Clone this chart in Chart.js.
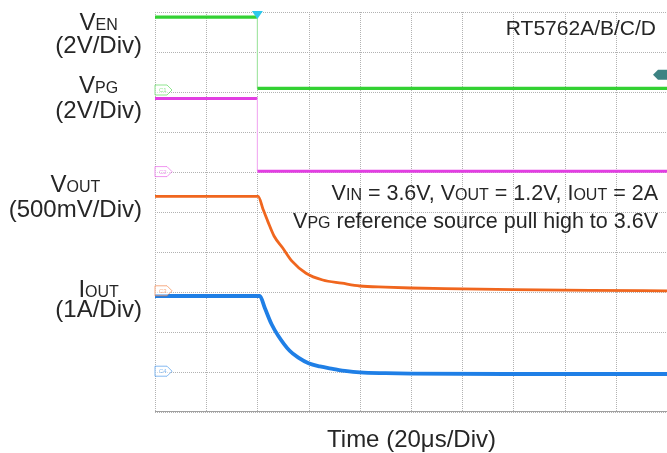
<!DOCTYPE html>
<html>
<head>
<meta charset="utf-8">
<script src="https://cdn.jsdelivr.net/npm/chart.js@4.4.1/dist/chart.umd.min.js"></script>
<style>
    html, body { margin: 0; padding: 0; background: #fff; }
    #wrap { position: relative; width: 667px; height: 453px; }
</style>
</head>
<body>
<div id="wrap"><canvas id="scope"></canvas></div>
<script>
// time axis in us (20us/Div), trigger at t = 0
const timeMin = -40, timeMax = 160, timeStep = 20;
// vertical axis in screen divisions, 0 = bottom edge
const divMin = 0, divMax = 10, divStep = 1;

// VEN (2V/Div)
const venTime = [-40, 0, 0, 160];
const venDiv  = [9.87, 9.87, 8.09, 8.09];

// VPG (2V/Div)
const pgTime = [-40, 0, 0, 160];
const pgDiv  = [7.84, 7.84, 6.02, 6.02];

// VOUT (500mV/Div)
const voutTime = [-40, 0.3, 2.2, 4.1, 6.5, 9.9, 13.5, 19, 25.5, 33, 40, 50, 60, 80, 100, 130, 160];
const voutDiv  = [5.39, 5.39, 5.07, 4.76, 4.4, 4.1, 3.77, 3.47, 3.3, 3.22, 3.15, 3.12, 3.1, 3.08, 3.06, 3.04, 3.03];

// IOUT (1A/Div)
const ioutTime = [-40, 0.9, 2.9, 5.5, 8, 12.6, 16, 20, 24.4, 29.4, 35, 40, 50, 60, 100, 160];
const ioutDiv  = [2.9, 2.9, 2.6, 2.2, 1.92, 1.53, 1.36, 1.22, 1.14, 1.08, 1.02, 0.99, 0.97, 0.96, 0.95, 0.95];

// channel ground markers (left) and trigger level (right)
const tagNames  = ["C1", "C2", "C3", "C4"];
const tagLevels = [8.05, 6.01, 3.03, 1.02];
const trigLevel = 8.43;

const FONT = '"Liberation Sans", Arial, Helvetica, sans-serif';
const traceColors = ["#33d133", "#e23ee2", "#f0661e", "#1f7fe6"];
const edgeColors  = ["#a6e6a6", "#f2b0f2", "#f0661e", "#1f7fe6"];

function points(ts, vs) {
    return ts.map((t, i) => ({ x: t, y: vs[i] }));
}

function trace(label, ts, vs, idx, width, smooth) {
    return {
        label: label,
        data: points(ts, vs),
        borderColor: traceColors[idx],
        borderWidth: width,
        pointRadius: 0,
        tension: 0,
        cubicInterpolationMode: smooth ? "monotone" : "default",
        segment: {
            // the fast edges are drawn thin and pale like on the scope screen
            borderWidth: c => c.p0.parsed.x === c.p1.parsed.x ? 1.2 : undefined,
            borderColor: c => c.p0.parsed.x === c.p1.parsed.x ? edgeColors[idx] : undefined
        }
    };
}

// draw text made of runs with different font sizes on one baseline
function runs(ctx, parts, x, y, align) {
    let w = 0;
    parts.forEach(p => { ctx.font = p[1] + "px " + FONT; w += ctx.measureText(p[0]).width; });
    let cx = align === "right" ? x - w : align === "center" ? x - w / 2 : x;
    parts.forEach(p => {
        ctx.font = p[1] + "px " + FONT;
        ctx.fillText(p[0], cx, y);
        cx += ctx.measureText(p[0]).width;
    });
    return w;
}

function tag(ctx, x0, cy, color, name) {
    ctx.save();
    ctx.globalAlpha = 0.55;
    ctx.beginPath();
    ctx.moveTo(x0, cy - 5);
    ctx.lineTo(x0 + 12, cy - 5);
    ctx.lineTo(x0 + 17, cy);
    ctx.lineTo(x0 + 12, cy + 5);
    ctx.lineTo(x0, cy + 5);
    ctx.closePath();
    ctx.fillStyle = "#fff";
    ctx.fill();
    ctx.strokeStyle = color;
    ctx.lineWidth = 1;
    ctx.stroke();
    ctx.fillStyle = color;
    ctx.font = "6px " + FONT;
    ctx.textBaseline = "middle";
    ctx.fillText(name, x0 + 4, cy + 0.5);
    ctx.restore();
}

// dotted graticule on the division ticks
const graticule = {
    id: "graticule",
    beforeDatasetsDraw(chart) {
        const { ctx, chartArea: a, scales: { x, y } } = chart;
        ctx.save();
        ctx.lineWidth = 1;
        ctx.strokeStyle = "#b2b2b2";
        ctx.setLineDash([1, 1]);
        for (let t = timeMin; t <= timeMax; t += timeStep) {
            const px = Math.round(x.getPixelForValue(t)) + 0.5;
            ctx.beginPath();
            ctx.moveTo(px, a.top);
            ctx.lineTo(px, a.bottom);
            ctx.stroke();
        }
        for (let d = divMin; d < divMax + 0.5; d += divStep) {
            const py = Math.round(y.getPixelForValue(d)) + 0.5;
            ctx.beginPath();
            ctx.moveTo(a.left, py);
            ctx.lineTo(a.right, py);
            ctx.stroke();
        }
        ctx.setLineDash([]);
        ctx.strokeStyle = "#a0a0a0";
        ctx.beginPath();
        ctx.moveTo(a.left, a.bottom - 0.5);
        ctx.lineTo(a.right, a.bottom - 0.5);
        ctx.stroke();
        ctx.restore();
    }
};

const scopeDecor = {
    id: "scopeDecor",
    afterDatasetsDraw(chart) {
        const { ctx, chartArea, scales: { x, y } } = chart;

        tagLevels.forEach((lv, i) => {
            tag(ctx, chartArea.left, y.getPixelForValue(lv), traceColors[i], tagNames[i]);
        });

        // trigger level marker, right edge
        const ty = y.getPixelForValue(trigLevel);
        const r = chartArea.right;
        ctx.save();
        ctx.fillStyle = "#3d8383";
        ctx.beginPath();
        ctx.moveTo(r, ty - 5);
        ctx.lineTo(r - 9, ty - 5);
        ctx.lineTo(r - 14, ty);
        ctx.lineTo(r - 9, ty + 5);
        ctx.lineTo(r, ty + 5);
        ctx.closePath();
        ctx.fill();

        // trigger position marker, top edge
        const tx = x.getPixelForValue(0);
        ctx.fillStyle = "#2ec8ec";
        ctx.beginPath();
        ctx.moveTo(tx - 5.5, chartArea.top - 1);
        ctx.lineTo(tx + 5.5, chartArea.top - 1);
        ctx.lineTo(tx, chartArea.top + 7);
        ctx.closePath();
        ctx.fill();
        ctx.restore();
    },
    afterDraw(chart) {
        const ctx = chart.ctx;
        ctx.save();
        ctx.fillStyle = "#262626";
        ctx.textBaseline = "alphabetic";

        // channel labels, left side
        const big = 24, small = 16, right = 142;
        const groups = [
            [[["V", big], ["EN", small]], "(2V/Div)", 29.5, 53.3],
            [[["V", big], ["PG", small]], "(2V/Div)", 93, 118.3],
            [[["V", big], ["OUT", small]], "(500mV/Div)", 191.7, 216.7],
            [[["I", big], ["OUT", small]], "(1A/Div)", 297, 316.5]
        ];
        groups.forEach(g => {
            ctx.font = big + "px " + FONT;
            const w = ctx.measureText(g[1]).width;
            ctx.textAlign = "left";
            ctx.fillText(g[1], right - w, g[3]);
            runs(ctx, g[0], right - w / 2, g[2], "center");
        });

        // part number and test conditions
        runs(ctx, [["RT5762A/B/C/D", 21]], 656, 35, "right");
        runs(ctx, [["V", 21.5], ["IN", 16], [" = 3.6V, V", 21.5], ["OUT", 16],
                   [" = 1.2V, I", 21.5], ["OUT", 16], [" = 2A", 21.5]], 658, 200, "right");
        if ("wordSpacing" in ctx) ctx.wordSpacing = "1.5px";
        runs(ctx, [["V", 21.5], ["PG", 16], [" reference source pull high to 3.6V", 21.5]], 658, 228, "right");
        if ("wordSpacing" in ctx) ctx.wordSpacing = "0px";

        // time base
        runs(ctx, [["Time (20\u03bcs/Div)", 24]], 411.5, 447, "center");
        ctx.restore();
    }
};

new Chart(document.getElementById("scope"), {
    type: "line",
    data: {
        datasets: [
            trace("VEN", venTime, venDiv, 0, 3.2, false),
            trace("VPG", pgTime, pgDiv, 1, 3, false),
            trace("VOUT", voutTime, voutDiv, 2, 2.8, true),
            trace("IOUT", ioutTime, ioutDiv, 3, 3.8, true)
        ]
    },
    options: {
        responsive: true,
        maintainAspectRatio: false,
        animation: false,
        layout: { padding: { left: 155, top: 12, right: 0, bottom: 41 } },
        scales: {
            x: {
                type: "linear",
                min: timeMin,
                max: timeMax,
                ticks: { display: false, stepSize: timeStep },
                grid: { display: false, drawTicks: false },
                border: { display: false },
                afterFit: s => { s.height = 0; }
            },
            y: {
                type: "linear",
                min: divMin,
                max: divMax,
                ticks: { display: false, stepSize: divStep },
                grid: { display: false, drawTicks: false },
                border: { display: false },
                afterFit: s => { s.width = 0; }
            }
        },
        plugins: {
            legend: { display: false },
            tooltip: { enabled: false }
        }
    },
    plugins: [graticule, scopeDecor]
});
</script>
</body>
</html>
